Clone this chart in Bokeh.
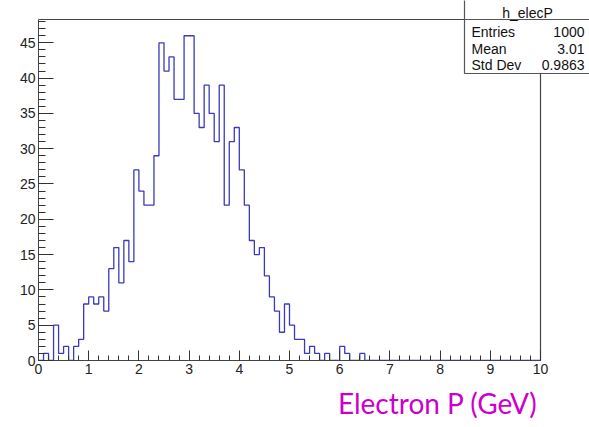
from bokeh.plotting import figure
from bokeh.models import FixedTicker, Label, Range1d, Title
from bokeh.embed import file_html
from bokeh.resources import INLINE

# ---- data ----
hist_name = "h_elecP"
x_low, x_high, n_bins = 0.0, 10.0, 100
counts = [0, 1, 0, 5, 1, 2, 0, 2, 3, 8,
          9, 8, 9, 7, 13, 16, 11, 17, 14, 27,
          24, 22, 22, 29, 45, 41, 43, 37, 37, 46,
          46, 35, 33, 39, 35, 31, 39, 22, 31, 33,
          27, 22, 17, 15, 16, 12, 9, 7, 4, 8,
          5, 3, 3, 1, 2, 1, 0, 1, 0, 0,
          2, 1, 0, 0, 1, 0, 0, 0, 0, 0,
          0, 0, 0, 0, 0, 0, 0, 0, 0, 0,
          0, 0, 0, 0, 0, 0, 0, 0, 0, 0,
          0, 0, 0, 0, 0, 0, 0, 0, 0, 0]
stat_names = ["Entries", "Mean", "Std Dev"]
stat_values = ["1000", "3.01", "0.9863"]
x_title = "Electron P (GeV)"
x_major = [0, 1, 2, 3, 4, 5, 6, 7, 8, 9, 10]
y_major = [0, 5, 10, 15, 20, 25, 30, 35, 40, 45]

# ---- layout (pixels of the ROOT pad) ----
W, H = 589, 427
FL, FR, FT, FB = 38, 540, 19, 360      # ROOT frame
y_top = max(counts) * 1.05

def px_x(px):
    return x_low + (px - FL) * (x_high - x_low) / (FR - FL)

def px_y(py):
    return (FB - py) * y_top / (FB - FT)

bw = (x_high - x_low) / n_bins
edges = [x_low + i * bw for i in range(n_bins + 1)]
step_y = counts + [counts[-1]]

# Bokeh frame extends to the right and top edges of the canvas
p = figure(width=W, height=H, output_backend="svg", toolbar_location=None,
           x_range=Range1d(x_low, px_x(W)), y_range=Range1d(0, px_y(0)),
           min_border_left=FL, min_border_right=0,
           min_border_top=0, min_border_bottom=H - FB)
p.background_fill_color = "white"
p.border_fill_color = "white"
p.outline_line_color = None
p.xgrid.visible = False
p.ygrid.visible = False

frame_col = "#444444"
axis_font = "Liberation Sans"
for ax, maj, minor, tin, mtin, bnd in (
        (p.xaxis[0], x_major, [x_low + 0.2 * i for i in range(51)], 10, 5, (x_low, x_high)),
        (p.yaxis[0], y_major, list(range(0, 49)), 15, 7, (0, y_top))):
    ax.ticker = FixedTicker(ticks=maj, minor_ticks=minor)
    ax.bounds = bnd
    ax.major_tick_in = tin
    ax.major_tick_out = 0
    ax.minor_tick_in = mtin
    ax.minor_tick_out = 0
    ax.axis_line_color = frame_col
    ax.major_tick_line_color = "#333333"
    ax.minor_tick_line_color = "#333333"
    ax.major_label_text_font = axis_font
    ax.major_label_text_font_size = "14px"
    ax.major_label_text_color = "#222222"
p.xaxis.major_label_standoff = 3
p.yaxis.major_label_standoff = 3

# histogram outline
p.step(edges, step_y, mode="after", line_color="#3a3abb", line_width=1.3)

# top and right frame lines
p.line([x_low, px_x(W + 20)], [y_top, y_top], line_color=frame_col, line_width=1.2)
p.line([x_high, x_high], [0, y_top], line_color=frame_col, line_width=1.2)

# stats box
box_line = "#555555"
p.quad(left=[px_x(464)], right=[px_x(W + 20)], top=[px_y(-20)], bottom=[px_y(73)],
       fill_color="white", line_color=box_line, line_width=1.2)
p.line([px_x(464), px_x(W + 20)], [y_top, y_top], line_color=box_line, line_width=1.2)
p.add_layout(Label(x=px_x(527), y=px_y(12), text=hist_name, text_align="center",
                   text_baseline="middle", text_font=axis_font, text_font_size="14px",
                   text_color="#111111"))
row_y = [31, 48, 64]
for name, val, ry in zip(stat_names, stat_values, row_y):
    p.add_layout(Label(x=px_x(471), y=px_y(ry), text=name, text_align="left",
                       text_baseline="middle", text_font=axis_font, text_font_size="14px",
                       text_color="#111111"))
    p.add_layout(Label(x=px_x(584), y=px_y(ry), text=val, text_align="right",
                       text_baseline="middle", text_font=axis_font, text_font_size="14px",
                       text_color="#111111"))

# x title, right aligned below the axis
p.add_layout(Title(text=x_title, align="right", offset=W - 537, standoff=15,
                   text_font="Lato", text_font_size="28px", text_font_style="normal",
                   text_color="#cc00cc"), "below")

open("out.html", "w").write(file_html(p, INLINE))
